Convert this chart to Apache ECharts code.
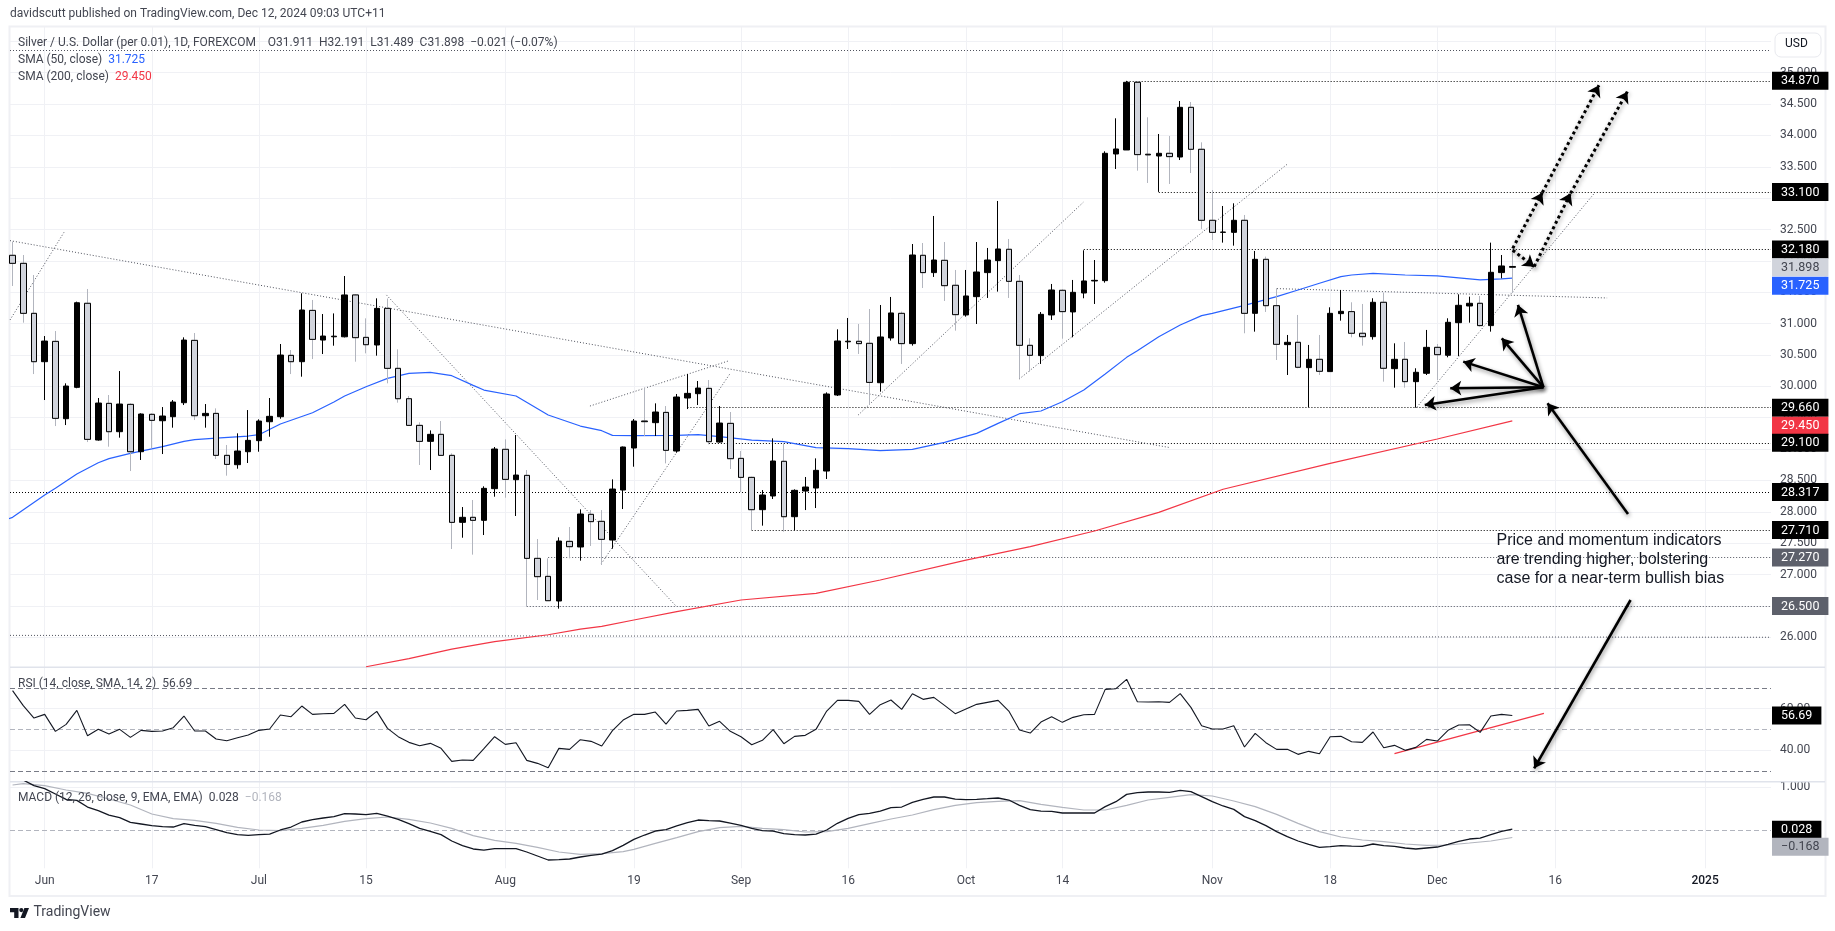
<!DOCTYPE HTML>
<html>
<head>
<meta charset="utf-8">
<title>Silver / U.S. Dollar</title>
<script src="https://cdn.jsdelivr.net/npm/echarts@6/dist/echarts.min.js"></script>
<style>
html,body{margin:0;padding:0;background:#fff;}
#chart{width:1835px;height:931px;}
</style>
</head>
<body>
<div id="chart"></div>
<script>
// daily bars, bar number 0 = 29 May, 140 = 11 Dec
var opens = [
32.089,31.961,31.164,30.393,30.717,29.484,29.984,31.324,29.144,29.729,
29.277,29.713,28.958,29.554,29.452,29.516,29.739,30.733,29.532,29.569,
28.900,28.751,28.958,29.134,29.436,29.516,30.494,30.393,31.211,30.738,
30.790,30.790,31.457,30.781,30.659,31.243,30.287,29.803,29.378,29.123,
29.235,28.900,27.832,27.912,27.864,28.369,28.996,28.512,28.581,27.258,
26.971,26.578,27.529,27.439,27.960,27.848,27.550,28.347,29.017,29.447,
29.421,29.585,28.969,29.814,29.883,29.968,29.112,29.410,28.852,28.549,
28.034,28.252,28.805,27.922,28.331,28.379,28.650,29.862,30.710,30.718,
30.686,30.058,30.771,31.164,30.681,32.089,31.813,32.009,31.611,31.138,
31.430,31.813,32.004,32.185,31.674,30.654,30.490,31.138,31.531,31.186,
31.488,31.680,31.685,33.704,33.768,34.847,33.700,33.672,33.715,33.656,
34.448,33.779,32.647,32.455,32.455,32.647,31.164,32.025,31.286,30.665,
30.702,30.298,30.431,30.235,31.159,31.191,30.846,30.792,31.340,30.282,
30.431,30.075,30.208,30.622,30.495,31.015,31.281,31.324,30.968,31.813,
31.911];
var closes = [
31.961,31.164,30.393,30.722,29.490,30.005,31.333,29.155,29.734,29.277,
29.718,28.958,29.559,29.458,29.527,29.750,30.738,29.532,29.569,28.900,
28.756,28.969,29.139,29.447,29.522,30.499,30.393,31.217,30.749,30.802,
30.800,31.457,30.776,30.664,31.243,30.287,29.803,29.378,29.123,29.235,
28.900,27.832,27.912,27.864,28.374,29.001,28.517,28.586,27.258,26.966,
26.583,27.534,27.444,27.965,27.843,27.561,28.363,29.033,29.447,29.437,
29.591,28.980,29.830,29.888,29.973,29.118,29.415,28.847,28.549,28.034,
28.268,28.810,27.922,28.342,28.395,28.661,29.878,30.723,30.720,30.681,
30.063,30.787,31.170,30.681,32.094,31.813,32.014,31.605,31.143,31.441,
31.823,32.014,32.190,31.674,30.654,30.495,31.148,31.536,31.191,31.499,
31.680,31.690,33.715,33.784,34.847,33.694,33.690,33.715,33.662,34.448,
33.779,32.647,32.455,32.460,32.647,31.164,32.025,31.286,30.670,30.702,
30.304,30.431,30.240,31.164,31.196,30.846,30.792,31.340,30.288,30.431,
30.075,30.224,30.622,30.505,31.021,31.292,31.324,30.968,31.818,31.919,
31.898];
var highs = [
32.307,32.094,31.775,30.802,30.882,30.048,31.350,31.552,29.814,29.862,
30.244,29.730,29.570,29.570,29.670,29.782,30.781,30.850,29.718,29.649,
29.065,29.251,29.622,29.474,29.814,30.675,30.579,31.483,31.377,31.153,
31.163,31.759,31.470,31.084,31.403,31.400,30.590,29.846,29.426,29.298,
29.447,28.932,28.076,28.188,28.406,29.033,29.155,29.224,28.666,27.566,
27.258,27.593,27.758,28.039,28.028,28.028,28.517,29.040,29.479,29.980,
29.729,29.686,29.878,30.196,30.085,30.101,29.686,29.591,28.969,28.560,
28.347,29.171,29.091,28.358,28.555,28.852,29.904,30.909,31.090,30.994,
31.233,31.297,31.425,31.191,32.269,32.285,32.716,32.301,31.855,31.855,
32.301,32.206,32.955,32.349,31.775,30.766,31.185,31.632,31.547,31.696,
32.169,32.014,33.747,34.273,34.870,34.863,34.289,34.023,33.991,34.549,
34.533,33.890,33.130,32.875,32.918,32.732,32.158,32.068,31.563,30.819,
31.138,30.660,30.819,31.260,31.536,31.340,31.313,31.404,31.494,30.686,
30.707,30.288,30.899,30.675,31.085,31.467,31.430,31.441,32.291,32.094,
32.191];
var lows = [
31.600,31.015,30.196,29.782,29.367,29.383,29.970,29.112,29.134,29.038,
29.182,28.650,28.826,29.011,28.921,29.341,29.702,29.463,29.341,28.841,
28.576,28.687,28.778,28.958,29.197,29.484,30.196,30.154,30.435,30.515,
30.648,30.780,30.393,30.526,30.489,30.048,29.740,29.378,28.746,28.666,
28.900,27.407,27.587,27.317,27.630,28.241,28.225,27.933,26.490,26.594,
26.583,26.456,27.258,27.221,27.455,27.152,27.412,28.044,28.719,29.208,
29.208,28.772,28.942,29.638,29.702,29.075,29.102,28.682,28.315,27.709,
27.779,28.204,27.683,27.704,28.028,28.060,28.523,29.846,30.596,30.516,
29.702,29.915,30.729,30.357,30.649,31.568,31.744,31.361,30.888,31.111,
30.994,31.409,31.510,31.409,30.128,30.234,30.357,31.058,30.760,30.782,
31.404,31.313,31.653,33.465,33.768,33.438,33.242,33.100,33.226,33.608,
33.401,32.509,32.333,32.291,32.243,30.846,30.872,31.186,30.420,30.181,
30.288,29.666,30.181,30.235,31.047,30.782,30.649,30.745,30.075,29.979,
29.979,29.660,30.181,30.100,30.463,30.484,31.015,30.952,30.872,31.722,
31.489];

// moving averages, read at the bars listed
var sma50Bars = [-1,0,3,4,6,8,9,11,14,16,17,19,22,23,25,28,30,31,33,35,37,39,41,43,44,47,50,53,55,56,58,62,64,66,69,72,75,78,81,84,87,90,92,94,96,98,100,102,104,105,107,109,111,112,115,118,120,122,124,125,127,130,133,136,137,139,140];
var sma50Vals = [27.85,27.912,28.268,28.374,28.602,28.783,28.847,28.932,29.038,29.123,29.150,29.176,29.208,29.229,29.399,29.580,29.750,29.846,29.994,30.127,30.207,30.223,30.170,30.016,29.941,29.846,29.543,29.367,29.293,29.219,29.213,29.219,29.229,29.197,29.144,29.118,29.022,29.006,28.974,28.996,29.107,29.251,29.410,29.564,29.607,29.755,29.941,30.196,30.462,30.569,30.792,30.978,31.127,31.164,31.292,31.430,31.536,31.643,31.749,31.775,31.802,31.775,31.760,31.712,31.696,31.712,31.725];
var sma200Bars = [33,37,41,45,50,53,55,58,62,68,75,81,89,95,101,107,113,123,133,140];
var sma200Vals = [25.53,25.66,25.81,25.93,26.04,26.13,26.174,26.275,26.408,26.594,26.700,26.913,27.231,27.444,27.694,27.990,28.360,28.773,29.161,29.450];

var rsiVals = [
68.59,61.40,55.48,57.24,49.09,52.44,59.16,47.01,50.05,47.81,
50.05,46.21,49.57,49.09,49.25,50.85,56.44,49.25,49.25,45.41,
44.61,46.05,47.33,49.57,50.21,56.92,56.12,61.24,57.24,57.56,
57.72,62.04,55.48,54.68,58.68,50.53,46.53,43.81,42.21,43.33,
40.93,34.70,35.34,35.18,40.77,46.53,42.85,43.65,35.18,33.74,
31.66,40.93,40.45,45.09,44.29,42.05,49.41,54.52,57.24,57.24,
58.36,52.60,58.84,59.16,59.64,51.65,53.88,49.09,46.53,42.69,
44.77,49.89,43.17,46.69,47.17,50.05,58.84,63.96,63.96,63.48,
57.24,61.88,64.12,59.64,67.15,64.44,65.39,61.56,57.56,59.80,
62.04,63.00,63.96,58.84,49.73,48.29,53.56,56.12,53.40,55.80,
57.08,57.24,69.23,69.55,74.03,63.32,63.16,63.32,63.00,67.15,
60.60,51.81,50.21,50.21,51.81,41.57,48.13,43.65,40.45,40.45,
38.06,39.50,38.38,46.53,46.69,44.13,43.81,48.77,41.25,42.37,
39.97,41.41,45.25,44.45,49.57,52.12,52.28,48.61,56.44,57.24,
56.69];
var macdVals = [
1.231,1.169,1.038,.968,.844,.720,.696,.541,.456,.355,
.293,.185,.146,.107,.084,.076,.154,.115,.084,.014,
-.056,-.102,-.118,-.102,-.087,.007,.076,.193,.247,.286,
.317,.386,.379,.363,.394,.332,.255,.154,.045,-.024,
-.102,-.249,-.358,-.435,-.459,-.428,-.428,-.428,-.505,-.598,
-.691,-.683,-.668,-.621,-.583,-.552,-.474,-.350,-.211,-.110,
-.017,.014,.100,.177,.239,.224,.216,.169,.115,.045,
-.009,-.017,-.079,-.102,-.110,-.087,.007,.162,.278,.363,
.394,.448,.526,.541,.650,.720,.774,.774,.727,.712,
.720,.735,.751,.704,.580,.479,.448,.441,.402,.402,
.402,.402,.549,.665,.836,.875,.890,.890,.882,.929,
.898,.782,.665,.565,.487,.317,.224,.107,-.032,-.149,
-.249,-.327,-.397,-.381,-.358,-.366,-.373,-.319,-.358,-.373,
-.412,-.435,-.412,-.389,-.327,-.257,-.203,-.180,-.102,-.024,
.028];
var signalBars = [0,1,3,5,7,9,11,13,15,17,19,21,23,25,27,29,31,33,35,37,39,41,43,45,47,49,51,53,55,57,58,60,62,64,66,68,70,72,74,76,78,80,82,84,86,88,90,92,94,96,98,100,102,104,106,108,110,112,114,116,118,120,122,124,126,128,130,132,134,136,138,140];
var signalVals = [1.053,1.084,1.038,.937,.859,.727,.588,.379,.270,.231,.162,.069,.007,-.009,.045,.115,.208,.270,.309,.255,.169,.045,-.125,-.234,-.304,-.397,-.505,-.559,-.544,-.497,-.443,-.304,-.172,-.032,.061,.092,.045,.014,-.040,-.032,.045,.154,.262,.355,.479,.580,.642,.673,.689,.603,.534,.472,.472,.580,.704,.766,.828,.797,.681,.549,.371,.162,-.032,-.156,-.226,-.265,-.319,-.350,-.342,-.296,-.249,-.168];

// axis labels and tags. a tag sits at its spot on the scale, pushed clear of its neighbour where they would overlap
var timeBars = [3,13,23,33,46,58,68,78,89,98,112,123,133,144,158];
var timeNames = ['Jun','17','Jul','15','Aug','19','Sep','16','Oct','14','Nov','18','Dec','16','2025'];
var priceTicks = [26,26.5,27,27.5,28,28.5,29,29.5,30,30.5,31,31.5,32,32.5,33,33.5,34,34.5,35];
var priceTagSpots = [34.870,33.100,32.180,31.898,31.604,29.660,29.373,29.100,28.317,27.710,27.270,26.500];
var priceTagTexts = ['34.870','33.100','32.180','31.898','31.725','29.660','29.450','29.100','28.317','27.710','27.270','26.500'];
var priceTagKinds = ['dark','dark','dark','pale','blue','dark','red','dark','dark','dark','grey','grey'];
var rsiTicks = [40,60];
var macdTicks = [1];

// drawings: [bar, price, bar, price]
var xMin = -0.239, xMax = 164.15;
var blackLevels = [
  [104,34.87,xMax,34.87],[107,33.1,xMax,33.1],[100,32.18,xMax,32.18],[63,29.66,xMax,29.66],
  [65,29.1,xMax,29.1],[xMin,28.317,xMax,28.317],[69,27.71,xMax,27.71]
];
var greyLevels = [
  [xMin,35.35,xMax,35.35],[50,27.27,xMax,27.27],[48,26.5,xMax,26.5],[xMin,26.03,xMax,26.0]
];
var trendLines = [
  [xMin,32.323,107.92,29.027],[xMin,31.058,4.8,32.455],[34.9,31.457,61.93,26.498],
  [54.94,27.168,66.95,30.196],[53.9,29.686,66.8,30.404],[78.94,29.543,99.95,32.934],
  [93.97,30.117,118.98,33.54],[118.03,31.558,148.85,31.409],[131.08,29.666,147.71,33.088]
];
var dottedArrows = [
  [140.04,32.2,142.8,33.088],[142.8,33.088,148.09,34.8],[140.04,32.17,142.04,31.908],
  [142.04,31.908,145.44,33.077],[145.44,33.077,150.74,34.698]
];
var solidArrows = [
  [142.91,29.985,131.83,29.703],[142.91,29.985,134.21,29.969],[142.91,29.985,135.42,30.394],
  [142.91,29.985,139.02,30.766],[142.91,29.985,140.53,31.297],
  [150.8,27.965,143.29,29.73],[151.04,26.594,142.04,23.91]
];
var rsiBands = [[xMin,70,xMax,70],[xMin,30,xMax,30]];
var rsiMid = [[xMin,50,xMax,50]];
var macdZero = [[xMin,0,xMax,0]];
var rsiTrend = [[129,38.38,142.95,57.72]];

var FONT = 'Roboto';
var myChart = echarts.init(document.getElementById('chart'));

function toCoords(list) {
    return list.map(function (d) { return {coords: [[d[0], d[1]], [d[2], d[3]]]}; });
}
function linesSeries(list, axis, style, extra) {
    var s = {
        type: 'lines', coordinateSystem: 'cartesian2d', xAxisIndex: axis, yAxisIndex: axis * 2,
        data: toCoords(list), lineStyle: Object.assign({opacity: 1, curveness: 0}, style), silent: true, animation: false,
        symbol: ['none', 'none'], clip: true, z: 3
    };
    for (var k in extra) s[k] = extra[k];
    return s;
}
function plotLine(points, axis, color, width, z) {
    return {
        type: 'line', data: points, xAxisIndex: axis, yAxisIndex: axis * 2, showSymbol: false,
        lineStyle: {color: color, width: width}, silent: true, animation: false, z: z || 4
    };
}
function zipPoints(xs, ys) {
    return xs.map(function (x, i) { return [x, ys[i]]; });
}
function allBars(ys) {
    return ys.map(function (y, i) { return [i, y]; });
}
function timeAxis(grid, labels) {
    return {
        type: 'value', gridIndex: grid, min: xMin, max: xMax, position: 'bottom',
        axisLine: {show: false},
        axisTick: {show: false, customValues: timeBars},
        splitLine: {show: true, lineStyle: {color: '#f0f1f5', width: 1}},
        axisLabel: {
            show: labels, customValues: timeBars, margin: 7, hideOverlap: false,
            fontFamily: FONT, fontSize: 12, color: '#434651',
            formatter: function (v) {
                var name = timeNames[timeBars.indexOf(v)];
                return name === '2025' ? '{year|2025}' : name;
            },
            rich: {year: {fontFamily: FONT, fontSize: 12, fontWeight: 500, color: '#131722'}}
        }
    };
}
function scaleAxis(grid, min, max, ticks, labels, digits) {
    return {
        type: 'value', gridIndex: grid, min: min, max: max, position: 'right',
        axisLine: {show: false},
        axisTick: {show: false, customValues: ticks},
        splitLine: {show: true, lineStyle: {color: '#f0f1f5', width: 1}},
        axisLabel: {
            customValues: labels, margin: 9, hideOverlap: false, showMinLabel: true, showMaxLabel: true,
            fontFamily: FONT, fontSize: 12, color: '#434651',
            formatter: function (v) { return v.toFixed(digits); }
        }
    };
}
function tagAxis(grid, min, max, spots, texts, kinds) {
    function kind(bg, fg) {
        return {fontFamily: FONT, fontSize: 12.5, padding: [3, 9, 2, 9], lineHeight: 12, backgroundColor: bg, color: fg};
    }
    return {
        type: 'value', gridIndex: grid, min: min, max: max, position: 'right', z: 5,
        axisLine: {show: false}, axisTick: {show: false, customValues: spots}, splitLine: {show: false},
        axisLabel: {
            customValues: spots, margin: 1, hideOverlap: false, showMinLabel: true, showMaxLabel: true,
            formatter: function (v) {
                var i = spots.indexOf(v);
                return '{' + kinds[i] + '|' + texts[i] + '}';
            },
            rich: {
                dark: kind('#000', '#fff'), pale: kind('#d1d4dc', '#434651'), blue: kind('#2962ff', '#fff'),
                red: kind('#f23645', '#fff'), grey: kind('#5d606b', '#fff'), soft: kind('#b2b5be', '#434651')
            }
        }
    };
}

var allCandles = opens.map(function (o, i) { return [i, o, closes[i], lows[i], highs[i]]; });
// down bodies again on top, the outline is black but their wicks stay grey
var downBodies = allCandles.filter(function (c) { return c[2] < c[1]; }).map(function (c) {
    return [c[0], c[1], c[2], c[2], c[1]];
});

var dotted = {color: '#000', width: 1, type: [1, 2]};
var dottedGrey = {color: '#50535e', width: 1, type: [1, 2]};
var arrowShadow = {shadowColor: 'rgba(0,0,0,0.45)', shadowBlur: 4, shadowOffsetX: 1, shadowOffsetY: 2};

var option = {
    backgroundColor: '#fff',
    animation: false,
    grid: [
        {left: 10, top: 27, width: 1761, height: 640.3},
        {left: 10, top: 667.3, width: 1761, height: 114.4},
        {left: 10, top: 781.7, width: 1761, height: 86.6}
    ],
    xAxis: [timeAxis(0, false), timeAxis(1, false), timeAxis(2, true)],
    yAxis: [
        scaleAxis(0, 25.5212, 35.7285, priceTicks.concat([35.5]), priceTicks, 3),
        tagAxis(0, 25.5212, 35.7285, priceTagSpots, priceTagTexts, priceTagKinds),
        scaleAxis(1, 24.94, 79.81, rsiTicks, rsiTicks, 2),
        tagAxis(1, 24.94, 79.81, [56.69], ['56.69'], ['dark']),
        scaleAxis(2, -0.884, 1.13, macdTicks, macdTicks, 3),
        tagAxis(2, -0.884, 1.13, [0.014], ['0.028'], ['dark']),
        // on its own axis, the label pass drops a second label that touches the first
        tagAxis(2, -0.884, 1.13, [-0.381], ['\u22120.168'], ['soft'])
    ],
    series: [
        linesSeries(greyLevels, 0, dottedGrey),
        linesSeries(blackLevels, 0, dotted),
        linesSeries(trendLines, 0, dottedGrey),
        plotLine(zipPoints(sma50Bars, sma50Vals), 0, '#2962ff', 1.2),
        plotLine(zipPoints(sma200Bars, sma200Vals), 0, '#f23645', 1.2),
        {
            type: 'candlestick', data: allCandles, xAxisIndex: 0, yAxisIndex: 0, barWidth: 6,
            itemStyle: {color: '#000', borderColor: '#000', color0: '#d1d4dc', borderColor0: '#b2b5be', borderWidth: 1},
            silent: true, animation: false, z: 5
        },
        {
            type: 'candlestick', data: downBodies, xAxisIndex: 0, yAxisIndex: 0, barWidth: 6,
            itemStyle: {color: '#000', borderColor: '#000', color0: '#d1d4dc', borderColor0: '#000', borderWidth: 1},
            silent: true, animation: false, z: 6
        },
        linesSeries(dottedArrows, 0, Object.assign({color: '#000', width: 3, type: [3, 3]}, arrowShadow),
            {symbol: ['none', 'arrow'], symbolSize: 11, clip: false, z: 8}),
        linesSeries(solidArrows, 0, Object.assign({color: '#000', width: 2.6}, arrowShadow),
            {symbol: ['none', 'arrow'], symbolSize: 11, clip: false, z: 8}),
        linesSeries(rsiBands, 1, {color: '#787b86', width: 1, type: [5, 3]}),
        linesSeries(rsiMid, 1, {color: '#b2b5be', width: 1, type: [5, 3]}),
        plotLine(allBars(rsiVals), 1, '#131722', 1.1),
        linesSeries(rsiTrend, 1, {color: '#f23645', width: 1.2}),
        linesSeries(macdZero, 2, {color: '#b2b5be', width: 1, type: [5, 3]}),
        plotLine(zipPoints(signalBars, signalVals), 2, '#b2b5be', 1.2),
        plotLine(allBars(macdVals), 2, '#131722', 1.3, 5)
    ],
    graphic: [
        {type: 'rect', z: 1, silent: true, shape: {x: 9.5, y: 26.5, width: 1816, height: 869.5}, style: {fill: 'none', stroke: '#eff0f4', lineWidth: 2}},
        {type: 'line', z: 1, silent: true, shape: {x1: 10, y1: 667.3, x2: 1825, y2: 667.3}, style: {stroke: '#e0e3eb', lineWidth: 1.5}},
        {type: 'line', z: 1, silent: true, shape: {x1: 10, y1: 781.7, x2: 1825, y2: 781.7}, style: {stroke: '#e0e3eb', lineWidth: 1.5}},
        {type: 'rect', z: 20, silent: true, shape: {x: 1775, y: 33, width: 46, height: 24, r: 6}, style: {fill: '#fff', stroke: '#e8e9ee', lineWidth: 1}},
        {type: 'text', z: 21, silent: true, x: 1785, y: 38, style: {text: 'USD', font: '12px ' + FONT, fill: '#131722'}},
        {type: 'text', z: 21, silent: true, x: 10, y: 8, style: {text: 'davidscutt published on TradingView.com, Dec 12, 2024 09:03 UTC+11', font: '12px ' + FONT, fill: '#434651'}},
        {type: 'text', z: 21, silent: true, x: 18, y: 37, style: {text: 'Silver / U.S. Dollar (per 0.01), 1D, FOREXCOM    O31.911  H32.191  L31.489  C31.898  \u22120.021 (\u22120.07%)', font: '12px ' + FONT, fill: '#434651'}},
        {type: 'text', z: 21, silent: true, x: 18, y: 54, style: {text: 'SMA (50, close)  {b|31.725}', font: '12px ' + FONT, fill: '#434651', rich: {b: {fill: '#2962ff', font: '12px ' + FONT}}}},
        {type: 'text', z: 21, silent: true, x: 18, y: 71, style: {text: 'SMA (200, close)  {r|29.450}', font: '12px ' + FONT, fill: '#434651', rich: {r: {fill: '#f23645', font: '12px ' + FONT}}}},
        {type: 'text', z: 21, silent: true, x: 18, y: 678, style: {text: 'RSI (14, close, SMA, 14, 2)  56.69', font: '12px ' + FONT, fill: '#434651'}},
        {type: 'text', z: 21, silent: true, x: 18, y: 792, style: {text: 'MACD (12, 26, close, 9, EMA, EMA)  0.028  {g|\u22120.168}', font: '12px ' + FONT, fill: '#434651', rich: {g: {fill: '#b2b5be', font: '12px ' + FONT}}}},
        {type: 'text', z: 21, silent: true, x: 1496.5, y: 531, style: {text: 'Price and momentum indicators\nare trending higher, bolstering\ncase for a near-term bullish bias', font: '16px "Liberation Sans"', lineHeight: 19, fill: '#131722'}},
        {type: 'polygon', z: 21, silent: true, shape: {points: [[10, 908], [18.5, 908], [18.5, 918], [14.2, 918], [14.2, 912.2], [10, 912.2]]}, style: {fill: '#131722'}},
        {type: 'circle', z: 21, silent: true, shape: {cx: 21.3, cy: 910.1, r: 2.1}, style: {fill: '#131722'}},
        {type: 'polygon', z: 21, silent: true, shape: {points: [[24.4, 908], [29, 908], [25, 918], [20.4, 918]]}, style: {fill: '#131722'}},
        {type: 'text', z: 21, silent: true, x: 33.5, y: 905, style: {text: 'TradingView', font: '14px ' + FONT, fill: '#434651'}}
    ]
};
myChart.setOption(option);
</script>
</body>
</html>
